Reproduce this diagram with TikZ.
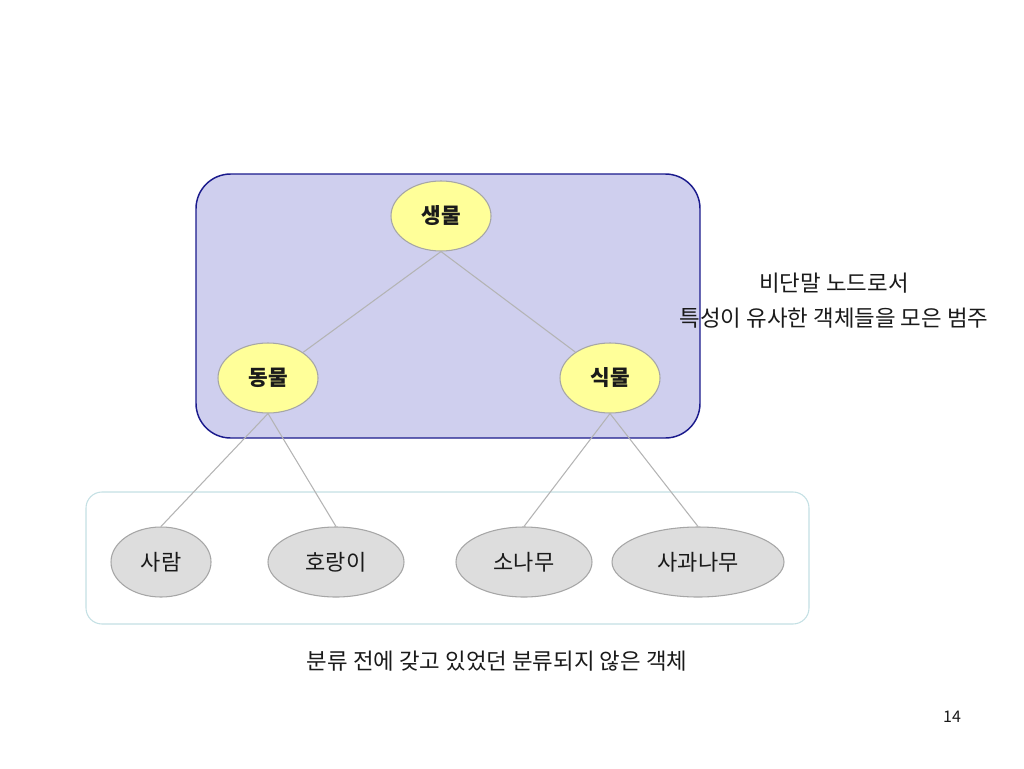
\documentclass[tikz,border=0pt]{standalone}
\usepackage{fontspec}
\setmainfont{Noto Sans CJK KR}
\usetikzlibrary{shapes.geometric}
\definecolor{Ink}       {HTML}{1A1A1A}
\definecolor{GroupFill} {HTML}{CFCFEE}
\definecolor{GroupEdge} {HTML}{1A1A8C}
\definecolor{LeafEdge}  {HTML}{C4E0E4}
\definecolor{NodeYellow}{HTML}{FFFF99}
\definecolor{NodeGrey}  {HTML}{DDDDDD}
\definecolor{RimGrey}   {HTML}{A6A6A6}
\definecolor{LinkGrey}  {HTML}{B4B4B4}

\tikzset{
  inner/.style={ellipse, draw=RimGrey, fill=NodeYellow, line width=0.8pt,
                minimum width=75pt, minimum height=52.5pt, inner sep=0pt,
                font=\fontsize{16pt}{19pt}\selectfont\bfseries, text=Ink},
  leaf/.style={ellipse, draw=RimGrey, fill=NodeGrey, line width=0.8pt,
               minimum height=52.5pt, inner sep=0pt,
               font=\fontsize{16.5pt}{19pt}\selectfont, text=Ink},
  link/.style={draw=LinkGrey, line width=0.8pt},
  caption/.style={font=\fontsize{16.8pt}{20pt}\selectfont, text=Ink}
}

\begin{document}
\begin{tikzpicture}[x=0.75pt, y=-0.75pt]
  \useasboundingbox (0,0) rectangle (1024,768);

  % ===== GROUP BOXES =====
  \draw[line width=1.1pt, GroupEdge, fill=GroupFill, rounded corners=26pt]
        (196,174) rectangle (700,438);
  \draw[line width=0.8pt, LeafEdge, fill=white, rounded corners=12pt]
        (86,492) rectangle (809,624);

  % ===== NON-LEAF NODES =====
  \node[inner] (life)   at (441,216) {생물};
  \node[inner] (animal) at (268,378) {동물};
  \node[inner] (plant)  at (610,378) {식물};

  % ===== LEAF NODES =====
  \node[leaf, minimum width=75pt]  (human) at (161,562) {사람};
  \node[leaf, minimum width=102pt] (tiger) at (336,562) {호랑이};
  \node[leaf, minimum width=102pt] (pine)  at (524,562) {소나무};
  \node[leaf, minimum width=129pt] (apple) at (698,562) {사과나무};

  % ===== LINKS =====
  \draw[link] (life.south) -- (animal);
  \draw[link] (life.south) -- (plant);
  \draw[link] (animal.south) -- (human.north);
  \draw[link] (animal.south) -- (tiger.north);
  \draw[link] (plant.south) -- (pine.north);
  \draw[link] (plant.south) -- (apple.north);

  % ===== CAPTIONS =====
  \node[caption] (inner note) at (834,283) {비단말 노드로서};
  \node[caption] (inner note2) at (834,318) {특성이 유사한 객체들을 모은 범주};
  \node[caption] (leaf note) at (497,661) {분류 전에 갖고 있었던 분류되지 않은 객체};
  \node[font=\fontsize{12pt}{14pt}\selectfont, text=Ink] (page) at (952,717) {14};

\end{tikzpicture}
\end{document}
